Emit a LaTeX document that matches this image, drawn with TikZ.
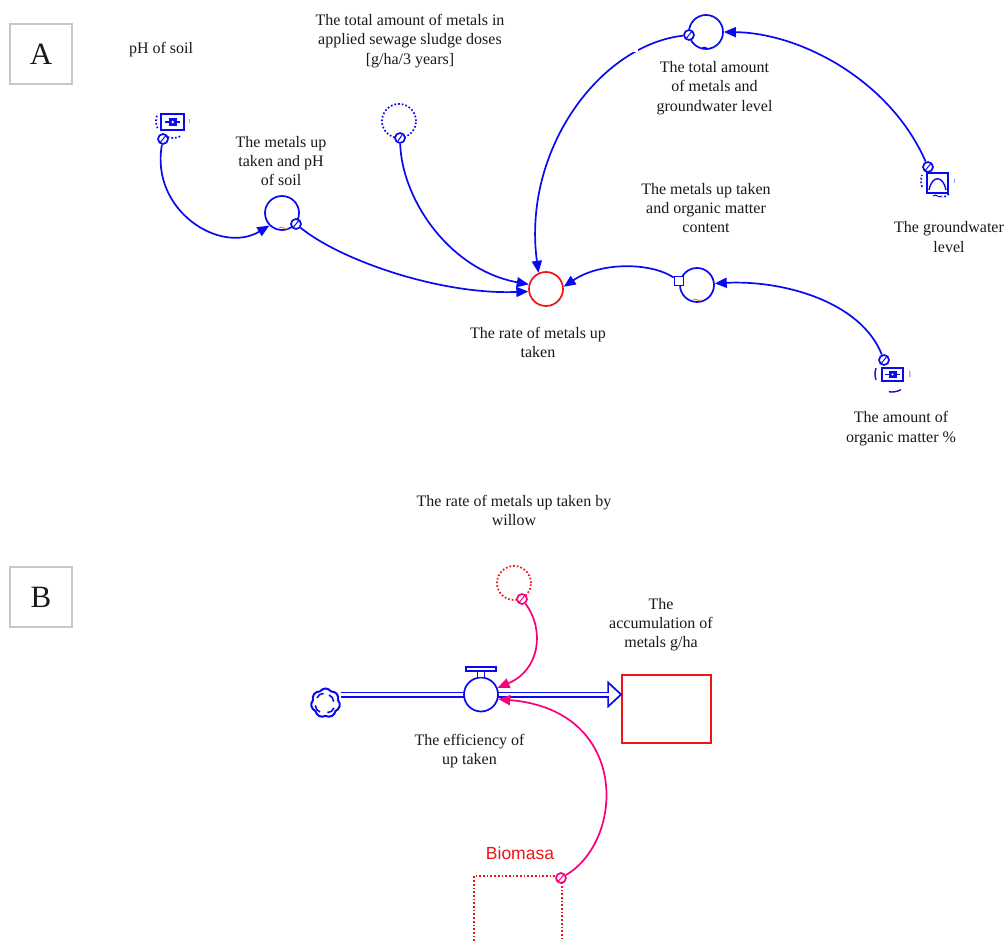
\documentclass[tikz,border=0pt]{standalone}
\usepackage{fontspec}
\setmainfont{Liberation Serif}
\newfontfamily\arialfont{Liberation Sans}
\usetikzlibrary{arrows.meta,shapes.symbols,calc}
\definecolor{vblue}{RGB}{10,10,240}
\definecolor{vred}{RGB}{240,20,20}
\definecolor{vpink}{RGB}{250,0,120}
\definecolor{vorange}{RGB}{215,140,80}
\definecolor{vtext}{RGB}{25,25,25}
\definecolor{vgray}{RGB}{200,200,200}
\tikzset{
  lbl/.style={text=vtext,align=center,inner sep=0pt,font=\fontsize{16}{19.2}\selectfont},
  aux/.style={circle,draw=vblue,line width=1.7pt,minimum size=34pt,inner sep=0pt,fill=white},
  ghost/.style={circle,draw=vblue,dotted,line width=1.7pt,minimum size=34pt,inner sep=0pt},
  orig/.style={circle,draw=vblue,line width=1.7pt,minimum size=10pt,inner sep=0pt,fill=white},
  porig/.style={circle,draw=vpink,line width=1.7pt,minimum size=10pt,inner sep=0pt,fill=white},
  link/.style={draw=vblue,line width=1.7pt,-{Triangle[length=12pt,width=10pt]}},
  plink/.style={draw=vpink,line width=1.7pt,-{Triangle[length=12pt,width=10pt]}},
  letterbox/.style={draw=vgray,line width=1.5pt,minimum width=62pt,minimum height=60pt,inner sep=0pt,font=\fontsize{31}{31}\selectfont,text=vtext},
  iconbox/.style={draw=vblue,line width=1.8pt,inner sep=0pt},
}
\begin{document}
\begin{tikzpicture}[x=1pt,y=-1pt]
\useasboundingbox (0,0) rectangle (1005,941);
\fill[white] (0,0) rectangle (1005,941);

% letter boxes
\node[letterbox] (boxA) at (41,54) {A};
\node[letterbox] (boxB) at (41,597) {B};

% ---------- section A ----------
% pH of soil constant with slider icon
\node[lbl] (phlbl) at (161,50) {pH of soil};
\node[iconbox,minimum width=23pt,minimum height=16pt] (phicon) at (172.5,122) {};
\draw[vblue,line width=1.8pt] (165,122) -- (180,122);
\fill[vblue] (168.5,118) rectangle (177,126);
\fill[white] (172.75,122) circle (1.3pt);
\draw[vblue,dotted,line width=1.7pt] (173,121) ++(65:17) arc (65:115:17);
\draw[vblue,dotted,line width=1.7pt] (173,121) ++(155:17) arc (155:205:17);
\draw[vblue!40,line width=1pt] (173,121) ++(-8:17) arc (-8:8:17);
\node[orig] (oph) at (163,139) {};
\draw[vblue,line width=1pt] (160.5,142) -- (165.5,136);

% sewage sludge ghost
\node[lbl] (sewlbl) at (410,41) {The total amount of metals in\\applied sewage sludge doses\\{[g/ha/3 years]}};
\node[ghost] (sew) at (399,121) {};
\node[orig] (osew) at (400,138) {};
\draw[vblue,line width=1pt] (398,141) -- (402,135);

% metals up taken and pH of soil
\node[lbl] (mphlbl) at (281,161) {The metals up\\taken and pH\\of soil};
\node[aux] (mph) at (282,213) {};
\draw[vorange,line width=1pt] (279,228) .. controls (282,225) and (285,231) .. (288,228);
\node[orig] (omph) at (296,224) {};
\draw[vblue,line width=1pt] (293.5,227) -- (298.5,221);

% rate of metals up taken
\node[aux,draw=vred] (rate) at (546,289) {};
\node[lbl] (ratelbl) at (538,342.5) {The rate of metals up\\taken};

% total amount of metals and groundwater level
\node[aux] (tg) at (706,32) {};
\draw[vblue,line width=1pt] (702,48) .. controls (705,45) and (708,51) .. (711,48);
\node[lbl] (tglbl) at (714.5,88) {The total amount\\of metals and\\groundwater level};
\node[orig] (otg) at (689,35) {};
\draw[vblue,line width=1pt] (686.5,38) -- (691.5,32);

% groundwater level lookup icon
\node[iconbox,minimum width=21pt,minimum height=20pt] (gwicon) at (937.5,183) {};
\draw[vblue,line width=1.4pt] (929,190) .. controls (932,175) and (943,175) .. (946,190);
\draw[vblue,line width=1pt] (933,196) .. controls (936,193) and (939,199) .. (942,196);
\draw[vblue,dotted,line width=1.7pt] (938,181) ++(50:17) arc (50:75:17);
\draw[vblue,dotted,line width=1.7pt] (938,181) ++(160:17) arc (160:200:17);
\draw[vblue!40,line width=1pt] (938,181) ++(-8:17) arc (-8:8:17);
\node[orig] (ogw) at (928,167) {};
\draw[vblue,line width=1pt] (925.5,170) -- (930.5,164);
\node[lbl] (gwlbl) at (949,237) {The groundwater\\level};

% metals up taken and organic matter content
\node[lbl] (omlbl) at (706,208) {The metals up taken\\and organic matter\\content};
\node[aux] (om) at (697,285) {};
\draw[vorange,line width=1pt] (693,300) .. controls (696,297) and (699,303) .. (702,300);
\node[orig,rectangle,minimum size=9pt] (oom) at (679,281) {};

% amount of organic matter icon
\node[iconbox,minimum width=21pt,minimum height=13pt] (orgicon) at (892.5,374.5) {};
\draw[vblue,line width=1.8pt] (885,374.5) -- (900,374.5);
\fill[vblue] (888.5,371) rectangle (896.5,378);
\fill[white] (892.5,374.5) circle (1.2pt);
\draw[vblue,line width=1.4pt] (892,374) ++(60:18) arc (60:100:18);
\draw[vblue,line width=1.4pt] (892,374) ++(160:17) arc (160:200:17);
\draw[vblue!50,line width=1pt] (892,374) ++(-10:18) arc (-10:10:18);
\node[orig] (oorg) at (884,360) {};
\draw[vblue,line width=1pt] (881.5,363) -- (886.5,357);
\node[lbl] (orglbl) at (901,428.5) {The amount of\\organic matter \%};

% connectors A
\draw[link] (oph) .. controls (150,210) and (220,255) .. (mph.225);
\draw[link] (omph) .. controls (340,260) and (440,295) .. (rate.188);
\draw[link] (osew) .. controls (402,200) and (450,270) .. (rate.165);
\draw[link] (otg) .. controls (600,45) and (522,150) .. (rate.115);
\draw[link] (ogw) .. controls (890,80) and (800,33) .. (tg.east);
\draw[link] (oom) .. controls (650,262) and (600,262) .. (rate.7);
\draw[link] (oorg) .. controls (860,300) and (780,280) .. (om.5);
% gap in the long link
\fill[white] (628,44) rectangle (638,52);

% ---------- section B ----------
\node[lbl] (willbl) at (514,510.5) {The rate of metals up taken by\\willow};
\node[ghost,draw=vred] (wil) at (514,583) {};
\node[porig] (owil) at (522,599) {};
\draw[vpink,line width=1pt] (519.5,602) -- (524.5,596);

% stock
\node[draw=vred,line width=1.8pt,minimum width=89pt,minimum height=68pt,inner sep=0pt] (stock) at (666.5,709) {};
\node[lbl] (stocklbl) at (661,624.5) {The\\accumulation of\\metals g/ha};

% cloud
\node[cloud,cloud puffs=7,cloud puff arc=110,draw=vblue,line width=2pt,minimum width=29pt,minimum height=29pt,inner sep=0pt,aspect=1] (cloud) at (325.5,703) {};
\draw[vblue,line width=1.6pt] (317,698) arc (200:270:7);
\draw[vblue,line width=1.6pt] (329,695) arc (290:360:7);
\draw[vblue,line width=1.6pt] (334,708) arc (20:90:7);
\draw[vblue,line width=1.6pt] (320,712) arc (110:180:7);

% pipe
\coordinate (pipeend) at ($(stock.west |- 0,694.5)+(-13,0)$);
\draw[vblue,line width=1.4pt,double=white,double distance=3.2pt] (cloud.east |- 0,694.5) -- (pipeend);
\draw[vblue,line width=1.7pt,fill=white,line join=miter] ($(pipeend)+(0,-12)$) -- ($(stock.west |- 0,694.5)$) -- ($(pipeend)+(0,12)$) -- cycle;
\fill[white] ($(pipeend)+(-1,-1.6)$) rectangle ($(pipeend)+(1.2,1.6)$);

% valve
\node[aux] (valve) at (481,694.5) {};
\draw[vblue,line width=1.4pt,fill=white] (477.5,677.5) rectangle (484.5,671);
\draw[vblue,line width=1.7pt,fill=white] (466,667) rectangle (496,671);
\node[lbl] (valvelbl) at (469.5,751) {The efficiency of\\up taken};

% Biomasa
\draw[vred,dotted,line width=1.7pt] (474,941) -- (474,876) -- (562,876) -- (562,941);
\node[text=vred,inner sep=0pt,font=\arialfont\fontsize{17.5}{20}\selectfont] (biolbl) at (520,853) {Biomasa};
\node[porig] (obio) at (561,878) {};
\draw[vpink,line width=1pt] (558.5,881) -- (563.5,875);

% connectors B
\draw[plink] (owil) .. controls (545,630) and (540,670) .. (valve.22);
\draw[plink] (obio) .. controls (625,840) and (630,710) .. (valve.-15);
\end{tikzpicture}
\end{document}
